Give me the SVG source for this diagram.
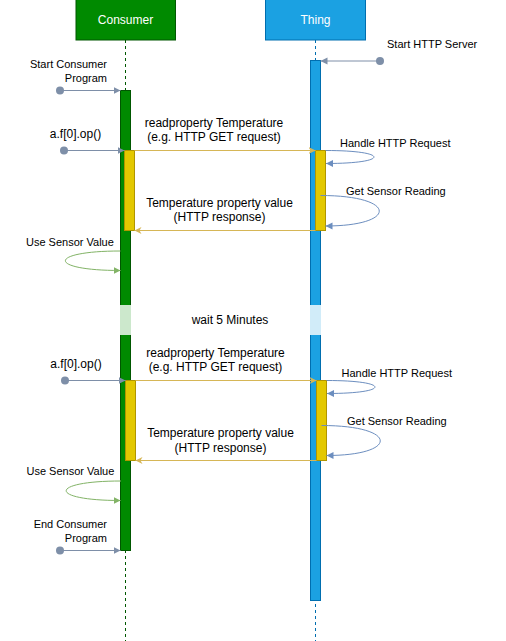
<svg xmlns="http://www.w3.org/2000/svg" width="506" height="641" viewBox="0 0 506 641">
<style>
text{font-family:"Liberation Sans",Arial,sans-serif;fill:#000}
.s11{font-size:11px}
.s12{font-size:12px}
.hd{font-size:12px;fill:#fff;text-anchor:middle}
.c{text-anchor:middle}
.r{text-anchor:end}
.life{stroke-width:1;stroke-dasharray:3 3;fill:none}
.start{stroke:#7E8FA8;stroke-width:1;fill:none;marker-end:url(#aGrey)}
.msg{stroke:#D6B656;stroke-width:1;fill:none;marker-end:url(#aYel)}
.loopB{stroke:#6C8EBF;stroke-width:1;fill:none;marker-end:url(#aBlue)}
.loopG{stroke:#82B366;stroke-width:1;fill:none;marker-end:url(#aGreen)}
.dot{fill:#7E8FA8}
.act{fill:#E3C800;stroke:#B09500}
</style>
<defs>
<marker id="aGrey" markerWidth="8" markerHeight="8" refX="7" refY="4" orient="auto" markerUnits="userSpaceOnUse"><path d="M0,0.5 L7,4 L0,7.5 Z" fill="#7E8FA8"/></marker>
<marker id="aYel" markerWidth="8" markerHeight="8" refX="7" refY="4" orient="auto" markerUnits="userSpaceOnUse"><path d="M0,0.5 L7,4 L0,7.5 L2,4 Z" fill="#D6B656"/></marker>
<marker id="aBlue" markerWidth="8" markerHeight="8" refX="7" refY="4" orient="auto" markerUnits="userSpaceOnUse"><path d="M0,0.5 L7,4 L0,7.5 Z" fill="#6C8EBF"/></marker>
<marker id="aGreen" markerWidth="8" markerHeight="8" refX="7" refY="4" orient="auto" markerUnits="userSpaceOnUse"><path d="M0,0.5 L7,4 L0,7.5 Z" fill="#82B366"/></marker>
</defs>
<rect width="506" height="641" fill="#fff"/>

<g id="consumer">
<rect x="76" y="-0.5" width="99.5" height="40.5" fill="#008A00" stroke="#005700"/>
<text class="hd" x="125.5" y="24">Consumer</text>
<line class="life" x1="125.5" y1="40" x2="125.5" y2="641" stroke="#005700"/>
<rect x="120.5" y="90.5" width="10" height="460" fill="#008A00" stroke="#005700"/>
<rect x="120" y="305" width="11" height="30" fill="#CCE8CC"/>
<rect class="act" x="124.5" y="150.5" width="10" height="80"/>
<rect class="act" x="125.5" y="380.5" width="10" height="80"/>
</g>

<g id="thing">
<rect x="265.5" y="-0.5" width="100" height="40.5" fill="#1BA1E2" stroke="#006EAF"/>
<text class="hd" x="315.5" y="24">Thing</text>
<line class="life" x1="315.5" y1="40" x2="315.5" y2="641" stroke="#006EAF"/>
<rect x="310.5" y="60.5" width="10" height="540" fill="#1BA1E2" stroke="#006EAF"/>
<rect x="310" y="305" width="11" height="30" fill="#D1ECF9"/>
<rect class="act" x="315.5" y="150.5" width="10" height="80"/>
<rect class="act" x="316.5" y="380.5" width="10" height="80"/>
</g>

<g id="connectors">
<circle class="dot" cx="380" cy="61" r="4"/>
<path class="start" d="M380,61 L320.5,61"/>
<circle class="dot" cx="60" cy="90.5" r="4"/>
<path class="start" d="M60,90.5 L120.5,90.5"/>
<circle class="dot" cx="64" cy="150.5" r="4"/>
<path class="start" d="M64,150.5 L124.5,150.5"/>
<path class="msg" d="M134.5,150.5 L315.5,150.5"/>
<path class="loopB" d="M325.5,150.5 C390,150.5 390,163.5 326,163.5"/>
<path class="loopB" d="M320.5,195.5 C398,195.5 398,226 325.5,226"/>
<path class="msg" d="M315.5,230.5 L134.5,230.5"/>
<path class="loopG" d="M120.5,251 C47,251 47,270.5 120.5,270.5"/>

<circle class="dot" cx="65" cy="380.5" r="4"/>
<path class="start" d="M65,380.5 L125.5,380.5"/>
<path class="msg" d="M135.5,380.5 L316.5,380.5"/>
<path class="loopB" d="M326.5,380.5 C391,380.5 391,393.5 327,393.5"/>
<path class="loopB" d="M321.5,425.5 C399,425.5 399,455.5 326.5,455.5"/>
<path class="msg" d="M316.5,460.5 L135.5,460.5"/>
<path class="loopG" d="M121,481 C48,481 48,500.5 120.5,500.5"/>
<circle class="dot" cx="60" cy="550.5" r="4"/>
<path class="start" d="M60,550.5 L120.5,550.5"/>
</g>

<g id="labels">
<text class="s11" x="387" y="48">Start HTTP Server</text>
<text class="s11 r" x="107" y="68">Start Consumer</text>
<text class="s11 r" x="107" y="82">Program</text>
<text class="s12 c" x="75.5" y="138">a.f[0].op()</text>
<text class="s12 c" x="214" y="127">readproperty Temperature</text>
<text class="s12 c" x="214" y="141">(e.g. HTTP GET request)</text>
<text class="s11" x="340" y="147">Handle HTTP Request</text>
<text class="s11" x="346" y="195">Get Sensor Reading</text>
<text class="s12 c" x="219.5" y="207">Temperature property value</text>
<text class="s12 c" x="219.5" y="221">(HTTP response)</text>
<text class="s11" x="26" y="246">Use Sensor Value</text>
<text class="s12 c" x="230" y="324">wait 5 Minutes</text>
<text class="s12 c" x="76" y="368">a.f[0].op()</text>
<text class="s12 c" x="215.5" y="357">readproperty Temperature</text>
<text class="s12 c" x="215.5" y="371">(e.g. HTTP GET request)</text>
<text class="s11" x="341.5" y="377">Handle HTTP Request</text>
<text class="s11" x="347" y="425">Get Sensor Reading</text>
<text class="s12 c" x="220.5" y="437">Temperature property value</text>
<text class="s12 c" x="220.5" y="452">(HTTP response)</text>
<text class="s11" x="26.5" y="475">Use Sensor Value</text>
<text class="s11 r" x="107" y="528">End Consumer</text>
<text class="s11 r" x="107" y="542">Program</text>
</g>
</svg>
